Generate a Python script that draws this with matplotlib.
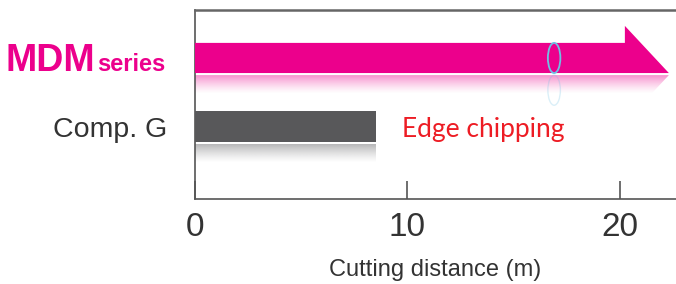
import numpy as np
import matplotlib
matplotlib.use("Agg")
from matplotlib import pyplot as plt
from matplotlib.patches import Polygon, Ellipse

# data
categories = ["MDM", "Comp. G"]
values = [22.3, 8.5]          # cutting distance (m); MDM still going (arrow)
xticks = [0, 10, 20]
marker_x = 16.9               # blue ring on the MDM arrow
note = "Edge chipping"

pink = "#ec008c"
gray = "#58585a"
txt = "#333333"

fig = plt.figure(figsize=(6.76, 2.84), dpi=100)
ax = fig.add_axes([195/676, 85/284, 481/676, 189/284])

xmax = 481/21.25
ax.set_xlim(0, xmax)
ax.set_ylim(2.058, -0.70)

bh = 0.44  # bar height (data units)
head_len = 44/21.25
head_up = 17/68.5


def reflection(x0, x1, y, color, path_pts):
    # faded mirror image under a bar
    rgb = matplotlib.colors.to_rgb(color)
    n = 64
    a = np.linspace(0.55, 0.0, n) ** 1.3
    img = np.zeros((n, 2, 4))
    img[..., :3] = rgb
    img[..., 3] = a[:, None]
    h = 19/68.5
    im = ax.imshow(img, extent=(x0, x1, y + h, y), aspect="auto",
                   interpolation="bilinear", zorder=2)
    clip = Polygon(path_pts, closed=True, transform=ax.transData)
    im.set_clip_path(clip)


# MDM arrow
y0 = 0
v = values[0]
top, bot = y0 - bh/2, y0 + bh/2
body_end = v - head_len
arrow = [(0, top), (body_end, top), (body_end, top - head_up),
         (v, bot), (0, bot)]
ax.add_patch(Polygon(arrow, closed=True, facecolor=pink, edgecolor="none", zorder=3))
gap = 0.03
rh = 19/68.5
refl = [(0, bot + gap), (v, bot + gap), (v - rh*head_len/(bh+head_up), bot + gap + rh),
        (0, bot + gap + rh)]
reflection(0, v, bot + gap, pink, refl)

# blue ring + its faded reflection
ax.add_patch(Ellipse((marker_x, y0), 12.5/21.25, bh, facecolor="none",
                     edgecolor="#6ec1e4", lw=1.3, zorder=4))
ax.add_patch(Ellipse((marker_x, bot + gap + bh/2), 12.5/21.25, bh, facecolor="none",
                     edgecolor="#6ec1e4", lw=1.0, alpha=0.25, zorder=3))

# Comp. G bar
y1 = 1
ax.barh(y1, values[1], height=bh, color=gray, zorder=3)
b1 = y1 + bh/2 + gap
reflection(0, values[1], b1, gray, [(0, b1), (values[1], b1),
                                    (values[1], b1 + 1), (0, b1 + 1)])

ax.text(9.74, y1 + 0.05, note, color="#ed1c24", fontsize=19, family="Lato",
        va="center", ha="left")

# axes styling
ax.spines["right"].set_visible(False)
ax.spines["top"].set_color("#666666")
ax.spines["top"].set_linewidth(1.8)
for s in ["left", "bottom"]:
    ax.spines[s].set_color("#555555")
    ax.spines[s].set_linewidth(1.2)

ax.set_xticks(xticks)
ax.set_xticklabels([str(t) for t in xticks], fontsize=24, color=txt,
                   family="Liberation Sans")
ax.tick_params(axis="x", direction="in", length=13, width=1.2, color="#555555", pad=9)
ax.set_yticks([])

fig.text(435/676, 1 - 270/284, "Cutting distance (m)", fontsize=17, color=txt,
         family="Liberation Sans", ha="center", va="center")

# category labels
fig.text(95/676, 1 - 71/284, "MDM", color=pink, fontsize=27, weight="bold",
         family="Liberation Sans", ha="right", va="baseline")
fig.text(97/676, 1 - 71/284, "series", color=pink, fontsize=17, weight="bold",
         family="Liberation Sans", ha="left", va="baseline")
fig.text(167/676, 1 - 130/284, categories[1], color=txt, fontsize=20.5,
         family="Liberation Sans", ha="right", va="center")

fig.savefig("out.png", dpi=100)
